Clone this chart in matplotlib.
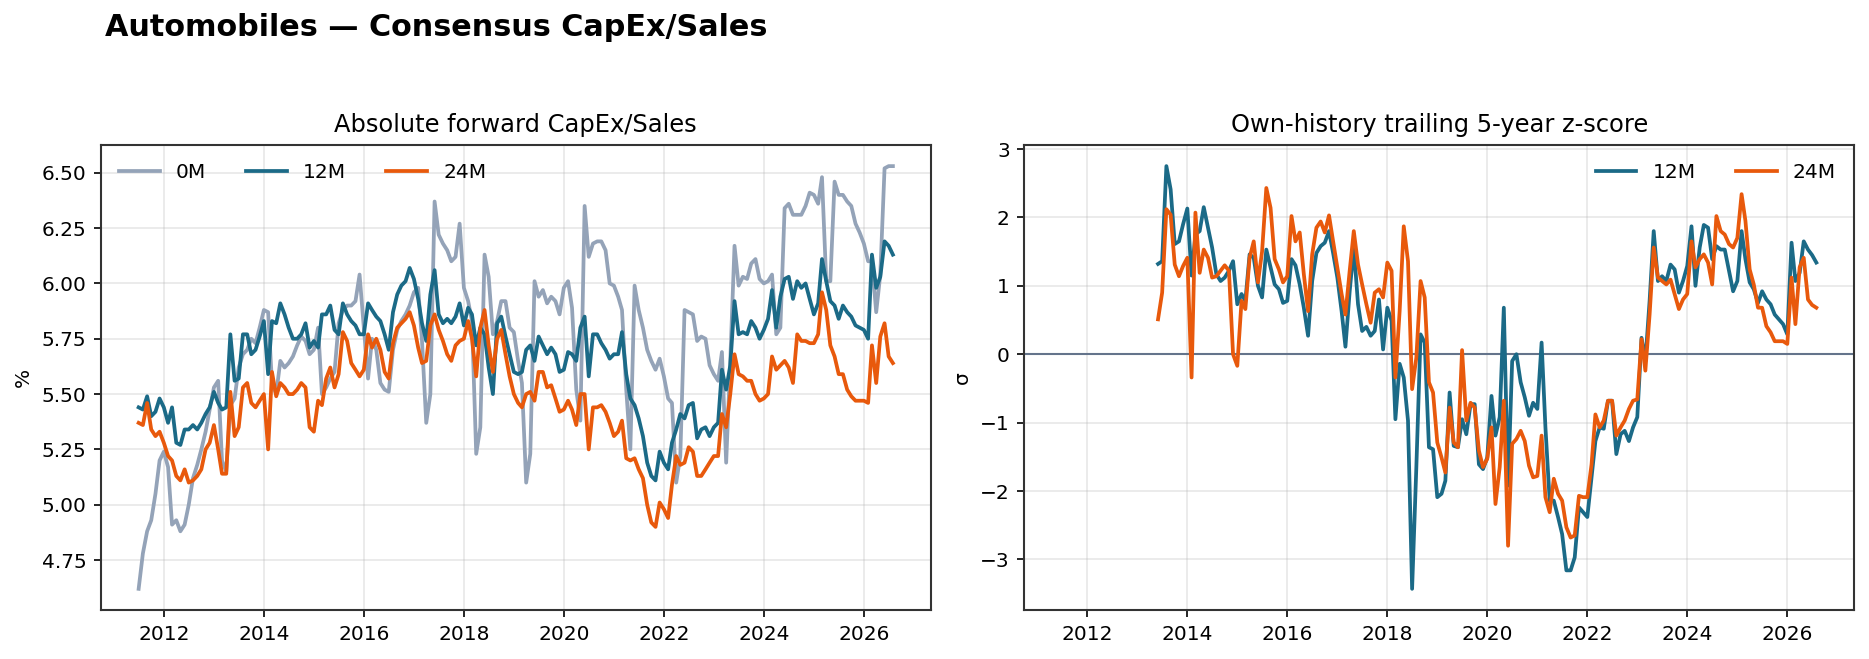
import matplotlib
matplotlib.use("Agg")
import matplotlib.pyplot as plt
import matplotlib.dates as mdates
import pandas as pd

# ------------------ dados ----------------------
datas = pd.date_range("2011-06-30", periods=182, freq="ME")
datas_z = datas[23:]

capex_0m = [
    4.62, 4.78, 4.88, 4.93, 5.05, 5.20, 5.24, 5.17, 4.91, 4.93,
    4.88, 4.91, 5.00, 5.12, 5.18, 5.25, 5.33, 5.43, 5.53, 5.56,
    5.20, 5.15, 5.45, 5.48, 5.62, 5.68, 5.70, 5.75, 5.73, 5.80,
    5.88, 5.87, 5.55, 5.50, 5.65, 5.62, 5.64, 5.67, 5.72, 5.76,
    5.74, 5.68, 5.70, 5.80, 5.50, 5.53, 5.57, 5.60, 5.82, 5.88,
    5.90, 5.90, 5.92, 6.04, 5.80, 5.57, 5.75, 5.70, 5.55, 5.52,
    5.51, 5.70, 5.79, 5.83, 5.86, 5.90, 5.96, 5.98, 5.74, 5.37,
    5.50, 6.37, 6.22, 6.18, 6.15, 6.10, 6.12, 6.27, 5.98, 5.92,
    5.83, 5.23, 5.35, 6.13, 6.03, 5.77, 5.83, 5.92, 5.92, 5.80,
    5.78, 5.65, 5.55, 5.10, 5.23, 6.01, 5.94, 5.97, 5.91, 5.94,
    5.92, 5.86, 5.98, 6.01, 5.89, 5.52, 5.38, 6.35, 6.12, 6.18,
    6.19, 6.19, 6.15, 6.00, 5.99, 5.94, 5.88, 5.52, 5.25, 5.99,
    5.88, 5.80, 5.70, 5.65, 5.61, 5.66, 5.58, 5.48, 5.46, 5.10,
    5.22, 5.88, 5.87, 5.86, 5.74, 5.76, 5.75, 5.63, 5.59, 5.56,
    5.69, 5.19, 5.65, 6.17, 5.99, 6.03, 6.02, 6.09, 6.11, 6.02,
    6.00, 6.01, 6.04, 5.77, 5.80, 6.34, 6.36, 6.31, 6.31, 6.31,
    6.35, 6.41, 6.40, 6.36, 6.48, 6.01, 6.01, 6.46, 6.40, 6.40,
    6.37, 6.35, 6.27, 6.23, 6.18, 6.10, 6.10, 5.87, 6.04, 6.52,
    6.53, 6.53,
]

capex_12m = [
    5.44, 5.43, 5.49, 5.40, 5.42, 5.48, 5.44, 5.37, 5.44, 5.28,
    5.27, 5.34, 5.34, 5.36, 5.34, 5.37, 5.41, 5.44, 5.51, 5.46,
    5.43, 5.44, 5.77, 5.56, 5.57, 5.77, 5.77, 5.68, 5.70, 5.76,
    5.83, 5.59, 5.83, 5.82, 5.91, 5.86, 5.80, 5.75, 5.75, 5.77,
    5.82, 5.71, 5.74, 5.71, 5.86, 5.86, 5.90, 5.79, 5.77, 5.91,
    5.86, 5.83, 5.81, 5.77, 5.77, 5.91, 5.88, 5.85, 5.83, 5.77,
    5.70, 5.87, 5.95, 5.99, 6.01, 6.07, 6.02, 5.93, 5.82, 5.74,
    5.95, 6.06, 5.86, 5.82, 5.84, 5.82, 5.85, 5.91, 5.81, 5.89,
    5.86, 5.72, 5.80, 5.77, 5.62, 5.50, 5.82, 5.85, 5.76, 5.68,
    5.60, 5.59, 5.60, 5.70, 5.72, 5.65, 5.76, 5.72, 5.68, 5.71,
    5.68, 5.60, 5.61, 5.69, 5.68, 5.65, 5.80, 5.85, 5.58, 5.77,
    5.77, 5.73, 5.70, 5.66, 5.68, 5.68, 5.78, 5.59, 5.48, 5.45,
    5.39, 5.31, 5.19, 5.13, 5.11, 5.24, 5.19, 5.16, 5.28, 5.34,
    5.41, 5.39, 5.45, 5.46, 5.30, 5.34, 5.35, 5.31, 5.35, 5.37,
    5.61, 5.52, 5.63, 5.92, 5.77, 5.78, 5.77, 5.83, 5.80, 5.75,
    5.79, 5.84, 5.97, 5.80, 5.94, 6.02, 6.03, 5.93, 6.01, 5.98,
    6.00, 5.93, 5.86, 5.91, 6.11, 6.01, 5.92, 5.90, 5.84, 5.90,
    5.87, 5.85, 5.81, 5.80, 5.79, 5.75, 6.13, 5.98, 6.03, 6.19,
    6.17, 6.13,
]

capex_24m = [
    5.37, 5.36, 5.46, 5.34, 5.31, 5.33, 5.28, 5.22, 5.20, 5.13,
    5.11, 5.16, 5.10, 5.11, 5.13, 5.16, 5.25, 5.28, 5.36, 5.25,
    5.14, 5.14, 5.51, 5.31, 5.35, 5.53, 5.55, 5.46, 5.44, 5.47,
    5.50, 5.25, 5.60, 5.49, 5.55, 5.53, 5.50, 5.50, 5.52, 5.55,
    5.53, 5.35, 5.33, 5.47, 5.45, 5.57, 5.62, 5.53, 5.59, 5.78,
    5.74, 5.64, 5.61, 5.58, 5.61, 5.77, 5.71, 5.75, 5.70, 5.60,
    5.57, 5.73, 5.80, 5.82, 5.84, 5.87, 5.81, 5.71, 5.64, 5.65,
    5.81, 5.86, 5.79, 5.74, 5.68, 5.65, 5.72, 5.74, 5.75, 5.83,
    5.75, 5.58, 5.80, 5.88, 5.72, 5.60, 5.75, 5.79, 5.68, 5.58,
    5.50, 5.46, 5.44, 5.50, 5.51, 5.47, 5.60, 5.60, 5.53, 5.54,
    5.48, 5.42, 5.43, 5.47, 5.43, 5.36, 5.50, 5.50, 5.25, 5.44,
    5.44, 5.45, 5.42, 5.37, 5.31, 5.33, 5.38, 5.21, 5.20, 5.21,
    5.16, 5.12, 5.00, 4.92, 4.90, 5.01, 4.98, 4.94, 5.09, 5.22,
    5.18, 5.19, 5.26, 5.24, 5.13, 5.13, 5.16, 5.19, 5.22, 5.22,
    5.41, 5.35, 5.50, 5.68, 5.59, 5.58, 5.56, 5.56, 5.50, 5.47,
    5.48, 5.50, 5.67, 5.61, 5.63, 5.65, 5.62, 5.55, 5.77, 5.74,
    5.74, 5.73, 5.73, 5.77, 5.96, 5.88, 5.72, 5.67, 5.59, 5.59,
    5.52, 5.49, 5.47, 5.47, 5.47, 5.46, 5.72, 5.55, 5.76, 5.82,
    5.67, 5.64,
]

z_12m = [
    1.32, 1.36, 2.75, 2.41, 1.61, 1.65, 1.90, 2.13, 1.15, 1.75,
    1.80, 2.15, 1.85, 1.56, 1.17, 1.07, 1.12, 1.22, 1.36, 0.73,
    0.88, 0.78, 1.46, 1.41, 1.00, 0.83, 1.53, 1.27, 1.02, 0.95,
    0.75, 0.78, 1.39, 1.30, 1.02, 0.68, 0.27, 1.07, 1.48, 1.58,
    1.63, 1.80, 1.48, 1.12, 0.63, 0.11, 0.92, 1.56, 0.73, 0.34,
    0.40, 0.27, 0.34, 0.80, 0.07, 0.68, 0.49, -0.95, -0.14, -0.34,
    -0.97, -3.43, -1.65, 0.29, 0.17, -1.36, -1.39, -2.09, -2.04, -1.85,
    -0.56, -1.34, -1.36, -0.95, -1.17, -0.73, -0.73, -1.61, -1.68, -1.51,
    -0.61, -1.19, -0.92, 0.68, -1.92, -0.10, 0.00, -0.41, -0.63, -0.90,
    -0.71, -0.80, 0.17, -1.07, -2.14, -2.14, -2.38, -2.63, -3.16, -3.16,
    -2.97, -2.24, -2.31, -2.38, -1.80, -1.27, -1.07, -1.09, -0.68, -0.68,
    -1.46, -1.17, -1.12, -1.27, -1.07, -0.92, 0.24, -0.10, 0.78, 1.80,
    1.07, 1.14, 1.07, 1.31, 1.24, 0.90, 1.07, 1.29, 1.87, 1.00,
    1.56, 1.89, 1.85, 1.39, 1.58, 1.53, 1.53, 1.22, 0.92, 1.07,
    1.80, 1.39, 1.05, 0.95, 0.75, 0.92, 0.80, 0.73, 0.58, 0.51,
    0.44, 0.29, 1.63, 1.07, 1.19, 1.65, 1.53, 1.45, 1.34,
]

z_24m = [
    0.51, 0.90, 2.12, 2.04, 1.31, 1.14, 1.29, 1.41, -0.34, 2.07,
    1.19, 1.53, 1.41, 1.12, 1.14, 1.22, 1.30, 1.22, 0.00, -0.17,
    0.78, 0.66, 1.41, 1.65, 1.05, 1.50, 2.43, 2.14, 1.39, 1.24,
    1.05, 1.14, 2.02, 1.65, 1.78, 1.17, 0.63, 1.46, 1.85, 1.94,
    1.78, 2.03, 1.65, 1.27, 0.88, 0.58, 1.22, 1.80, 1.31, 1.02,
    0.73, 0.46, 0.90, 0.95, 0.83, 1.34, 1.22, -0.34, 0.63, 1.87,
    1.36, -0.51, -0.05, 1.07, 0.83, -0.41, -0.56, -1.29, -1.51, -1.73,
    -0.78, -1.29, -1.36, 0.06, -0.97, -0.71, -0.78, -1.41, -1.65, -1.53,
    -1.07, -2.19, -1.65, -0.68, -2.80, -1.31, -1.24, -1.12, -1.27, -1.63,
    -1.80, -1.78, -1.19, -2.09, -2.31, -1.82, -2.04, -2.14, -2.53, -2.68,
    -2.65, -2.07, -2.09, -2.09, -1.61, -0.88, -1.07, -0.97, -0.68, -0.68,
    -1.19, -1.07, -0.97, -0.80, -0.68, -0.66, 0.22, -0.24, 0.58, 1.56,
    1.12, 1.07, 1.02, 1.09, 0.88, 0.66, 0.80, 0.88, 1.65, 1.27,
    1.39, 1.46, 1.34, 1.02, 2.02, 1.80, 1.75, 1.61, 1.56, 1.70,
    2.34, 1.95, 1.24, 1.02, 0.68, 0.68, 0.41, 0.32, 0.19, 0.19,
    0.19, 0.15, 1.12, 0.44, 1.27, 1.41, 0.80, 0.72, 0.68,
]

# ------------------ estilo ----------------------
cor_0m = "#94A3B8"
cor_12m = "#1B6A87"
cor_24m = "#E8590C"
cor_zero = "#64748B"

plt.rcParams["font.size"] = 9.7

fig, (ax1, ax2) = plt.subplots(1, 2, figsize=(1869 / 150, 659 / 150), dpi=150, sharex=True)
fig.subplots_adjust(left=0.054, right=0.992, bottom=0.0744, top=0.78, wspace=0.113)

ax1.plot(datas, capex_0m, color=cor_0m, lw=1.8, label="0M")
ax1.plot(datas, capex_12m, color=cor_12m, lw=1.8, label="12M")
ax1.plot(datas, capex_24m, color=cor_24m, lw=1.8, label="24M")
ax1.set_title("Absolute forward CapEx/Sales", fontsize=11.6)
ax1.set_ylabel("%")
ax1.legend(loc="upper left", ncol=3, frameon=False)

ax2.axhline(0, color=cor_zero, lw=1.0)
ax2.plot(datas_z, z_12m, color=cor_12m, lw=1.8, label="12M")
ax2.plot(datas_z, z_24m, color=cor_24m, lw=1.8, label="24M")
ax2.set_title("Own-history trailing 5-year z-score", fontsize=11.6)
ax2.set_ylabel("σ")
ax2.legend(loc="upper right", ncol=2, frameon=False)

for ax in (ax1, ax2):
    ax.grid(True, alpha=0.3)
    ax.xaxis.set_major_locator(mdates.YearLocator(2))
    ax.xaxis.set_major_formatter(mdates.DateFormatter("%Y"))
    ax.tick_params(labelbottom=True)
    for s in ax.spines.values():
        s.set_color("#333333")
        s.set_linewidth(1.0)

fig.text(105 / 1869, 1 - 36 / 659, "Automobiles — Consensus CapEx/Sales",
         fontsize=14.5, fontweight="bold", ha="left", va="baseline")

fig.savefig("out.png", dpi=150)
